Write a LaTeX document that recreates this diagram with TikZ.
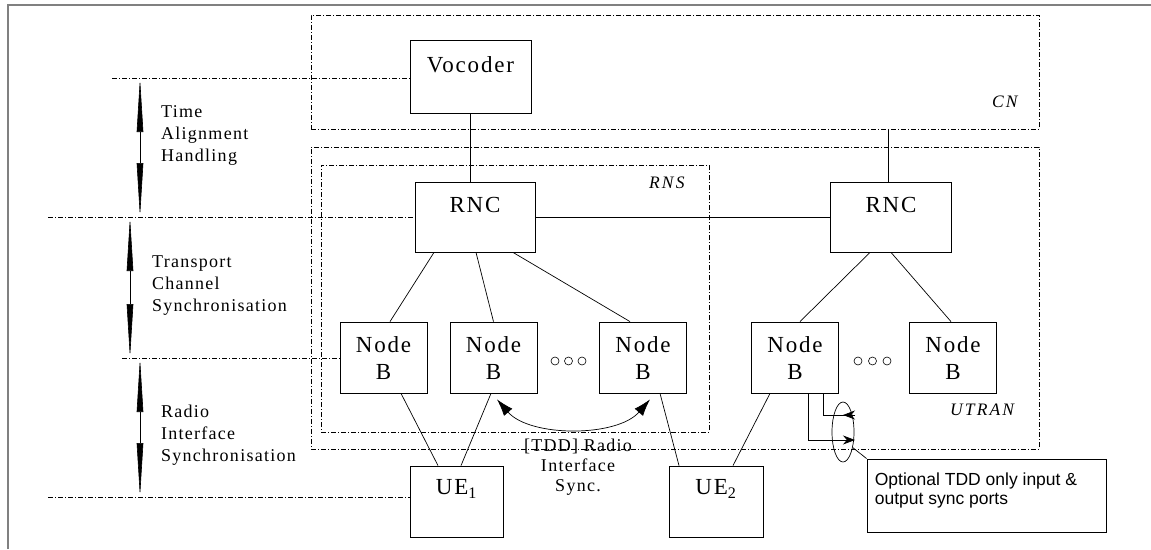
\documentclass[tikz,border=0pt]{standalone}
\usepackage{fontspec}
\setmainfont{Liberation Serif}
\newfontfamily\notefont{Liberation Sans}
\usetikzlibrary{arrows.meta,positioning,shapes.geometric}
\newcommand{\boxfont}{\fontsize{23}{27}\selectfont\addfontfeatures{LetterSpace=8}}
\newcommand{\lblfont}{\fontsize{18}{22}\selectfont\addfontfeatures{LetterSpace=7}}
\newcommand{\syncfont}{\fontsize{18}{20.3}\selectfont\addfontfeatures{LetterSpace=7}}
\newcommand{\zonefont}{\fontsize{17.5}{21}\selectfont\itshape\addfontfeatures{LetterSpace=12}}
\newcommand{\notesize}{\notefont\fontsize{17.5}{19}\selectfont}

\begin{document}
\begin{tikzpicture}[x=1pt,y=-1pt,
	unitbox/.style={draw,line width=0.8pt,inner sep=0pt,minimum width=#1,minimum height=71pt},
	boxtext/.style={anchor=north,yshift=-15pt,inner sep=0pt,align=center,font=\boxfont},
	zonebox/.style={draw,line width=0.9pt,dash pattern=on 5pt off 2pt on 1pt off 2pt,inner sep=0pt},
	zonetext/.style={anchor=base west,inner sep=0pt,font=\zonefont},
	lbltext/.style={anchor=north west,inner sep=0pt,align=left,font=\lblfont},
	notetext/.style={anchor=north west,xshift=8pt,yshift=-14pt,inner sep=0pt,align=left,font=\notesize},
	tier/.style={line width=0.9pt,dash pattern=on 5pt off 2pt on 1pt off 2pt},
	spanarrow/.style={line width=0.6pt,<->,>={Triangle[length=54pt,width=6.5pt]}},
	wire/.style={line width=0.7pt},
	syncport/.style={line width=0.7pt,-{Stealth[length=12pt,width=9pt]}}]
	\useasboundingbox (0,0) rectangle (1151,549);
	\draw[gray,line width=1.6pt] (8,549) -- (8,5) -- (1151,5);
	\node[zonebox,minimum width=728pt,minimum height=114pt] (cn) at (675,72) {};
	\node[zonebox,minimum width=728pt,minimum height=302pt] (utran) at (675,298) {};
	\node[zonebox,minimum width=388pt,minimum height=267pt] (rns) at (515,298.5) {};
	\node[zonetext] at (992,107) {CN};
	\node[zonetext] at (649,188) {RNS};
	\node[zonetext] at (950,415) {UTRAN};
	\node[unitbox=121pt,minimum height=73pt,label={[boxtext,yshift=-2pt]north:Vocoder}] (voc) at (470.5,76.5) {};
	\node[unitbox=120pt,minimum height=70pt,label={[boxtext]north:RNC}] (rnc1) at (475,217) {};
	\node[unitbox=121pt,minimum height=70pt,label={[boxtext]north:RNC}] (rnc2) at (891,217) {};
	\node[unitbox=87pt,label={[boxtext]north:Node\\B}] (nb1) at (383.5,357.5) {};
	\node[unitbox=87pt,label={[boxtext]north:Node\\B}] (nb2) at (493.5,357.5) {};
	\node[unitbox=87pt,label={[boxtext]north:Node\\B}] (nb3) at (643,357.5) {};
	\node[unitbox=87pt,label={[boxtext]north:Node\\B}] (nb4) at (795,357.5) {};
	\node[unitbox=87pt,label={[boxtext]north:Node\\B}] (nb5) at (953,357.5) {};
	\node[unitbox=93pt,label={[boxtext,yshift=1pt]north:UE\textsubscript{1}}] (ue1) at (456.5,501.5) {};
	\node[unitbox=94pt,label={[boxtext,yshift=1pt]north:UE\textsubscript{2}}] (ue2) at (716,501.5) {};
	\draw[wire] (voc.south) -- (voc.south |- rnc1.north);
	\draw[wire] ([xshift=-3pt]rnc2.north |- cn.south) -- ([xshift=-3pt]rnc2.north);
	\draw[wire] (rnc1.east) -- (rnc2.west);
	\draw[wire] ([xshift=-41pt]rnc1.south) -- ([xshift=6.5pt]nb1.north);
	\draw[wire] ([xshift=1pt]rnc1.south) -- (nb2.north);
	\draw[wire] ([xshift=38pt]rnc1.south) -- ([xshift=-13pt]nb3.north);
	\draw[wire] ([xshift=-21pt]rnc2.south) -- ([xshift=5pt]nb4.north);
	\draw[wire] (rnc2.south) -- ([xshift=-2pt]nb5.north);
	\draw[wire] ([xshift=17.5pt]nb1.south) -- ([xshift=-18.5pt]ue1.north);
	\draw[wire] ([xshift=-2.5pt]nb2.south) -- ([xshift=4.5pt]ue1.north);
	\draw[wire] ([xshift=17pt]nb3.south) -- ([xshift=-37pt]ue2.north);
	\draw[wire] ([xshift=-25pt]nb4.south) -- ([xshift=17pt]ue2.north);
	\coordinate (dotsl) at (555,361);
	\coordinate (dotsr) at (858,361);
	\foreach \k in {0,1,2} {
		\draw[line width=0.6pt] (dotsl) ++(\k*13.5,0) circle (4);
		\draw[line width=0.6pt] (dotsr) ++(\k*14.5,0) circle (4);
	}
	\coordinate (t1) at (112,78);
	\coordinate (t2) at (48,217);
	\coordinate (t3) at (122,358);
	\coordinate (t4) at (48,497);
	\coordinate (a1) at (140,0);
	\coordinate (a2) at (130,0);
	\draw[tier] (t1) -- (t1 -| voc.west);
	\draw[tier] (t2) -- (t2 -| rnc1.west);
	\draw[tier] (t3) -- (t3 -| nb1.west);
	\draw[tier] (t4) -- (t4 -| ue1.west);
	\draw[spanarrow] (t1 -| a1) -- (t2 -| a1);
	\draw[spanarrow] (t2 -| a2) -- (t3 -| a2);
	\draw[spanarrow] (t3 -| a1) -- (t4 -| a1);
	\node[lbltext] (tah) at (161,105.7) {Time\\Alignment\\Handling};
	\node[lbltext] (tcs) at (152,256) {Transport\\Channel\\Synchronisation};
	\node[lbltext] (ris) at (161,404.7) {Radio\\Interface\\Synchronisation};
	\draw[wire,{Latex[length=17pt,width=11pt]}-{Latex[length=17pt,width=11pt]}] ([shift={(3.5pt,-6pt)}]nb2.south) .. controls +(33,38) and +(-33,38) .. ([shift={(7pt,-6pt)}]nb3.south);
	\node[anchor=north,inner sep=0pt,align=center,font=\syncfont] (tddsync) at (578,438.5) {[TDD] Radio\\Interface\\Sync.};
	\coordinate (inport) at (855,415);
	\coordinate (outport) at (855,440);
	\draw[wire] ([xshift=28pt]nb4.south) |- (inport);
	\draw[syncport] (inport) -- ++(-12,0);
	\draw[syncport] ([xshift=13pt]nb4.south) |- (outport);
	\node[draw,ellipse,line width=0.7pt,minimum width=22pt,minimum height=60pt,inner sep=0pt] (ports) at (843,432) {};
	\node[unitbox=239pt,minimum height=73pt,label={[notetext]north west:Optional TDD only input \&\\output sync ports}] (note) at (986.5,495.5) {};
	\draw[wire] (ports.-58) -- (note.north west);
\end{tikzpicture}
\end{document}
